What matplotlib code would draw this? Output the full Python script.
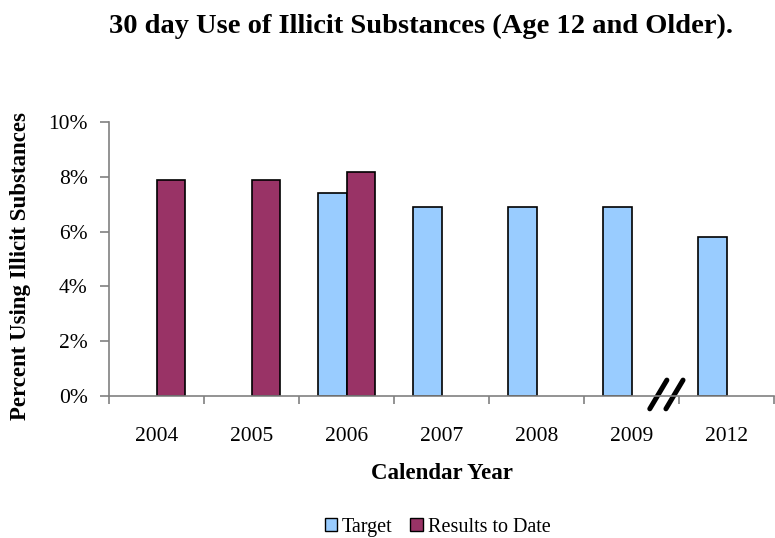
import numpy as np
import matplotlib
matplotlib.use("Agg")
import matplotlib.pyplot as plt
from matplotlib.patches import Patch

plt.rcParams['font.family'] = ['Liberation Serif', 'DejaVu Serif']

years = ['2004', '2005', '2006', '2007', '2008', '2009', '2012']
target = [np.nan, np.nan, 7.4, 6.9, 6.9, 6.9, 5.8]
results = [7.9, 7.9, 8.2, np.nan, np.nan, np.nan, np.nan]

blue = '#99CCFF'
maroon = '#993366'
axis_grey = '#808080'

fig = plt.figure(figsize=(7.75, 5.38), dpi=100)
ax = fig.add_axes([0.141, 0.264, 0.858, 0.5087])

x = np.arange(len(years))
w = 0.3
ax.bar(x - w / 2, np.array(target) / 100, width=w, color=blue,
       edgecolor='black', linewidth=1.2, label='Target')
ax.bar(x + w / 2, np.array(results) / 100, width=w, color=maroon,
       edgecolor='black', linewidth=1.2, label='Results to Date')

ax.set_xlim(-0.5, len(years) - 0.5)
ax.set_ylim(0, 0.10)
ax.set_yticks(np.arange(0, 0.101, 0.02))
ax.set_yticklabels([f'{int(round(v * 100))}%' for v in np.arange(0, 0.101, 0.02)])

ax.set_xticks(x)
ax.set_xticklabels(years)
ax.set_xticks(np.arange(-0.5, len(years)), minor=True)
ax.tick_params(axis='x', which='major', length=0, pad=22, labelsize=15.5)
ax.tick_params(axis='x', which='minor', length=6, direction='out', color=axis_grey, width=1.2)
ax.tick_params(axis='y', length=6.5, direction='out', color=axis_grey, width=1.2,
               labelsize=15.5, pad=9)

for side in ['top', 'right']:
    ax.spines[side].set_visible(False)
for side in ['left', 'bottom']:
    ax.spines[side].set_color(axis_grey)
    ax.spines[side].set_linewidth(1.2)

# axis break marks between 2009 and 2012
trans = ax.get_xaxis_transform()
for dx in (0.0, 0.17):
    ax.plot([5.19 + dx, 5.37 + dx], [-0.047, 0.058], transform=trans,
            color='black', linewidth=3.6, solid_capstyle='round', clip_on=False)

ax.set_xlabel('Calendar Year', fontsize=16.5, fontweight='bold')
ax.xaxis.set_label_coords(0.5, (396 - 479) / 273.7)
ax.xaxis.label.set_va('baseline')
ax.set_ylabel('Percent Using Illicit Substances', fontsize=16.5, fontweight='bold')
ax.yaxis.set_label_coords(-0.117, 0.474)

fig.text(0.5426, 1 - 33 / 538, '30 day Use of Illicit Substances (Age 12 and Older).',
         fontsize=20.5, fontweight='bold', ha='center', va='baseline')

handles = [Patch(facecolor=blue, edgecolor='black', label='Target'),
           Patch(facecolor=maroon, edgecolor='black', label='Results to Date')]
fig.legend(handles=handles, loc='center', bbox_to_anchor=(0.5645, 0.0204),
           ncol=2, frameon=False, fontsize=14.5, handlelength=0.6, handleheight=0.6,
           handletextpad=0.25, columnspacing=0.9)

fig.savefig('out.png', dpi=100)
